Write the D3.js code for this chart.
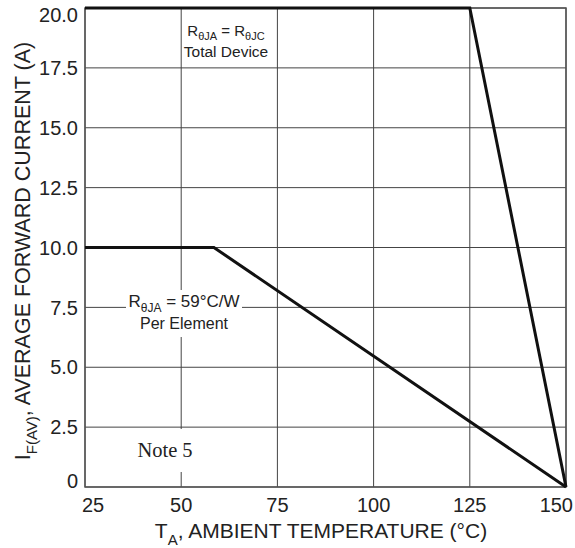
<!DOCTYPE html>
<html lang="en">
<head>
  <meta charset="UTF-8">
  <title>Derating curve</title>
  <script src="https://cdnjs.cloudflare.com/ajax/libs/d3/7.8.5/d3.min.js"></script>
  <style>
    body { margin: 0; background: #fff; }
    svg text { font-family: "Liberation Sans", Arial, sans-serif; fill: #222; }
    .grid line { stroke: #444; stroke-width: 1; }
  </style>
</head>
<body>
<script>
  // data
  var xTicks = [25, 50, 75, 100, 125, 150];
  var yTicks = [0, 2.5, 5, 7.5, 10, 12.5, 15, 17.5, 20];
  var totalTemp = [25, 125, 150];      // RθJA = RθJC, total device
  var totalAmps = [20, 20, 0];
  var elemTemp = [25, 58.5, 150];      // RθJA = 59°C/W, per element
  var elemAmps = [10, 10, 0];

  var W = 575, H = 548;
  var m = {left: 85, right: 9, top: 8, bottom: 61};

  var svg = d3.select("body").append("svg")
      .attr("width", W).attr("height", H);

  var x = d3.scaleLinear().domain([25, 150]).range([m.left, W - m.right]);
  var y = d3.scaleLinear().domain([0, 20]).range([H - m.bottom, m.top]);

  // grid
  var grid = svg.append("g").attr("class", "grid");
  grid.selectAll(".vx").data(xTicks).enter().append("line")
      .attr("x1", function(d) { return x(d); }).attr("x2", function(d) { return x(d); })
      .attr("y1", y(0)).attr("y2", y(20));
  grid.selectAll(".hy").data(yTicks).enter().append("line")
      .attr("x1", x(25)).attr("x2", x(150))
      .attr("y1", function(d) { return y(d); }).attr("y2", function(d) { return y(d); });

  // frame
  svg.append("rect")
      .attr("x", x(25)).attr("y", y(20))
      .attr("width", x(150) - x(25)).attr("height", y(0) - y(20))
      .attr("fill", "none").attr("stroke", "#555").attr("stroke-width", 1.5);

  // tick labels (end ones nudged inside like the original)
  svg.selectAll(".yl").data(yTicks).enter().append("text")
      .attr("x", m.left - 7)
      .attr("y", function(d) { return y(d) + (d === 20 ? 7 : d === 0 ? -6 : 0); })
      .attr("dy", "0.36em").attr("text-anchor", "end")
      .style("font-size", "20px")
      .text(function(d) { return d === 0 ? "0" : d3.format(".1f")(d); });

  svg.selectAll(".xl").data(xTicks).enter().append("text")
      .attr("x", function(d) { return d === 25 ? x(d) - 3 : d === 150 ? W - 2 : x(d); })
      .attr("y", y(0) + 25)
      .attr("text-anchor", function(d) { return d === 25 ? "start" : d === 150 ? "end" : "middle"; })
      .style("font-size", "20px")
      .text(function(d) { return d; });

  // white patches where labels interrupt the grid
  svg.append("rect").attr("x", 126).attr("y", 290).attr("width", 116).attr("height", 47).attr("fill", "#fff");
  svg.append("rect").attr("x", 134).attr("y", 429).attr("width", 62).attr("height", 43).attr("fill", "#fff");

  // curves
  var line = d3.line()
      .x(function(d) { return x(d[0]); })
      .y(function(d) { return y(d[1]); });

  svg.append("path")
      .datum(d3.zip(totalTemp, totalAmps))
      .attr("d", line)
      .attr("fill", "none").attr("stroke", "#111").attr("stroke-width", 3)
      .attr("stroke-linejoin", "miter");

  svg.append("path")
      .datum(d3.zip(elemTemp, elemAmps))
      .attr("d", line)
      .attr("fill", "none").attr("stroke", "#111").attr("stroke-width", 3)
      .attr("stroke-linejoin", "miter");

  // annotations
  var a1 = svg.append("text").attr("x", 226).attr("y", 36)
      .attr("text-anchor", "middle").style("font-size", "15px");
  a1.append("tspan").text("R");
  a1.append("tspan").attr("dy", 4).style("font-size", "11px").text("θJA");
  a1.append("tspan").attr("dy", -4).text(" = R");
  a1.append("tspan").attr("dy", 4).style("font-size", "11px").text("θJC");
  svg.append("text").attr("x", 226).attr("y", 57)
      .attr("text-anchor", "middle").style("font-size", "15.5px").text("Total Device");

  var a2 = svg.append("text").attr("x", 184).attr("y", 307)
      .attr("text-anchor", "middle").style("font-size", "17px");
  a2.append("tspan").text("R");
  a2.append("tspan").attr("dy", 5).style("font-size", "12px").text("θJA");
  a2.append("tspan").attr("dy", -5).text(" = 59°C/W");
  svg.append("text").attr("x", 184).attr("y", 329)
      .attr("text-anchor", "middle").style("font-size", "16px").text("Per Element");

  svg.append("text").attr("x", 165).attr("y", 457)
      .attr("text-anchor", "middle")
      .style("font-family", "'Liberation Serif', 'Times New Roman', serif")
      .style("font-size", "20.5px").text("Note 5");

  // axis titles
  var xt = svg.append("text").attr("x", 321).attr("y", 538)
      .attr("text-anchor", "middle").style("font-size", "21px");
  xt.append("tspan").text("T");
  xt.append("tspan").attr("dy", 7).style("font-size", "15px").text("A");
  xt.append("tspan").attr("dy", -7).text(", AMBIENT TEMPERATURE (°C)");

  var yt = svg.append("text")
      .attr("transform", "translate(30,251) rotate(-90)")
      .attr("text-anchor", "middle").style("font-size", "21.5px");
  yt.append("tspan").text("I");
  yt.append("tspan").attr("dy", 7).style("font-size", "15px").text("F(AV)");
  yt.append("tspan").attr("dy", -7).text(", AVERAGE FORWARD CURRENT (A)");
</script>
</body>
</html>
